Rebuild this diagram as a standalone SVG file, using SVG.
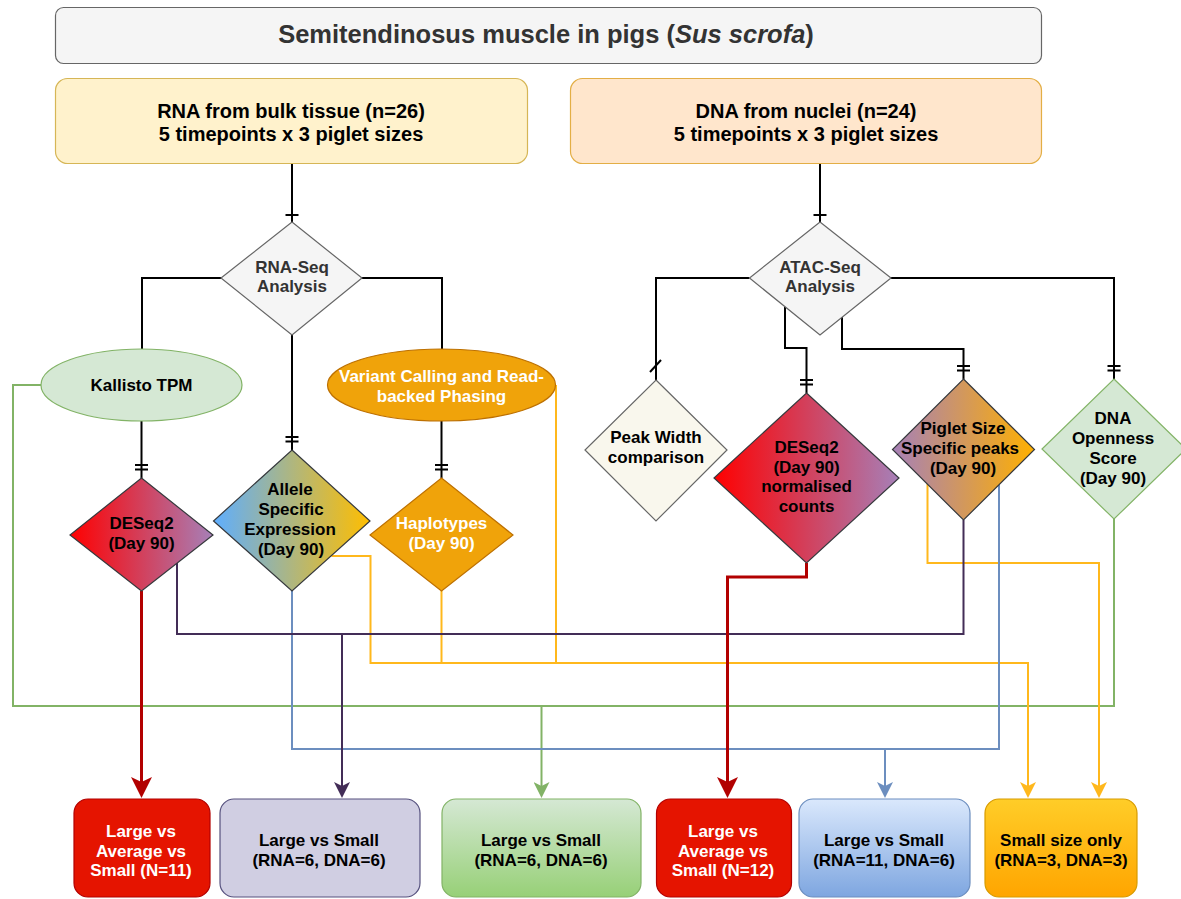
<svg xmlns="http://www.w3.org/2000/svg" width="1181" height="899" viewBox="0 0 1181 899">
<style>
text{font-family:"Liberation Sans",Arial,Helvetica,sans-serif;font-weight:bold;font-size:17px;text-anchor:middle;fill:#000}
.t{font-size:25.5px;fill:#333}
.s{font-size:20px}
.g{fill:#333}
.w{fill:#fff}
.c{fill:none;stroke-width:2;stroke-linejoin:miter}
.k{stroke:#000}
.r{stroke:#B20000;stroke-width:3}
.p{stroke:#432D57}
.b{stroke:#6C8EBF}
.gr{stroke:#82B366}
.y{stroke:#FFB81C}
</style>
<defs>
<linearGradient id="gDes" x1="0" y1="0" x2="1" y2="0"><stop offset="0" stop-color="#FF0000"/><stop offset="1" stop-color="#A680B8"/></linearGradient>
<linearGradient id="gAll" x1="0" y1="0" x2="1" y2="0"><stop offset="0" stop-color="#5EAEFF"/><stop offset="1" stop-color="#FFBE00"/></linearGradient>
<linearGradient id="gPig" x1="0" y1="0" x2="1" y2="0"><stop offset="0" stop-color="#A680B8"/><stop offset="1" stop-color="#FFB000"/></linearGradient>
<linearGradient id="gGreen" x1="0" y1="0" x2="0" y2="1"><stop offset="0" stop-color="#D5E8D4"/><stop offset="1" stop-color="#97D077"/></linearGradient>
<linearGradient id="gBlue" x1="0" y1="0" x2="0" y2="1"><stop offset="0" stop-color="#DAE8FC"/><stop offset="1" stop-color="#7EA6E0"/></linearGradient>
<linearGradient id="gOrange" x1="0" y1="0" x2="0" y2="1"><stop offset="0" stop-color="#FFCD28"/><stop offset="1" stop-color="#FFA500"/></linearGradient>
<marker id="aR" markerUnits="userSpaceOnUse" viewBox="0 0 21 21" markerWidth="21" markerHeight="21" refX="5" refY="10.5" orient="auto"><path d="M0,0 L21,10.5 L0,21 L5,10.5 Z" fill="#B20000"/></marker>
<marker id="aP" markerUnits="userSpaceOnUse" viewBox="0 0 16 16" markerWidth="16" markerHeight="16" refX="4" refY="8" orient="auto"><path d="M0,0 L16,8 L0,16 L4,8 Z" fill="#432D57"/></marker>
<marker id="aB" markerUnits="userSpaceOnUse" viewBox="0 0 16 16" markerWidth="16" markerHeight="16" refX="4" refY="8" orient="auto"><path d="M0,0 L16,8 L0,16 L4,8 Z" fill="#6C8EBF"/></marker>
<marker id="aG" markerUnits="userSpaceOnUse" viewBox="0 0 16 16" markerWidth="16" markerHeight="16" refX="4" refY="8" orient="auto"><path d="M0,0 L16,8 L0,16 L4,8 Z" fill="#82B366"/></marker>
<marker id="aY" markerUnits="userSpaceOnUse" viewBox="0 0 16 16" markerWidth="16" markerHeight="16" refX="4" refY="8" orient="auto"><path d="M0,0 L16,8 L0,16 L4,8 Z" fill="#FFB81C"/></marker>
<marker id="one" markerUnits="userSpaceOnUse" viewBox="-20 -10 30 20" markerWidth="30" markerHeight="20" refX="0" refY="0" orient="auto" overflow="visible"><path d="M-7,-6.5 V6.5" stroke="#000" stroke-width="2" fill="none"/></marker>
<marker id="two" markerUnits="userSpaceOnUse" viewBox="-20 -10 30 20" markerWidth="30" markerHeight="20" refX="0" refY="0" orient="auto" overflow="visible"><path d="M-13,-6.5 V6.5 M-8.5,-6.5 V6.5" stroke="#000" stroke-width="2" fill="none"/></marker>
</defs>

<g id="connectors">
<path class="c k" d="M292,163 V222" marker-end="url(#one)"/>
<path class="c k" d="M820,163 V222" marker-end="url(#one)"/>
<path class="c k" d="M221,278 H142 V349"/>
<path class="c k" d="M362,278 H442 V349"/>
<path class="c k" d="M292,335 V450" marker-end="url(#two)"/>
<path class="c k" d="M141.5,421 V478" marker-end="url(#two)"/>
<path class="c k" d="M441.5,421 V478" marker-end="url(#two)"/>
<path class="c k" d="M749.5,278 H656 V380"/>
<path class="c k" d="M650,372 L661,360"/>
<path class="c k" d="M785,307 V348 H806.5 V393" marker-end="url(#two)"/>
<path class="c k" d="M842,317 V349 H963.5 V379" marker-end="url(#two)"/>
<path class="c k" d="M891,278 H1114 V379" marker-end="url(#two)"/>
<path class="c gr" d="M41,385 H13 V706 H1114 V519"/>
<path class="c gr" d="M541.5,706 V786" marker-end="url(#aG)"/>
<path class="c y" d="M331.5,556 H370.5 V663 H1028 V786" marker-end="url(#aY)"/>
<path class="c y" d="M441.5,591 V663"/>
<path class="c y" d="M556,385 V663"/>
<path class="c y" d="M927.5,484 V563 H1099 V786" marker-end="url(#aY)"/>
<path class="c b" d="M292,591 V749 H885 V786" marker-end="url(#aB)"/>
<path class="c b" d="M999,485 V749 H885"/>
<path class="c p" d="M177,563 V634 H342 V786" marker-end="url(#aP)"/>
<path class="c p" d="M963.5,520 V634 H342"/>
<path class="c r" d="M141.5,591 V782" marker-end="url(#aR)"/>
<path class="c r" d="M806.5,563 V577 H727.5 V782" marker-end="url(#aR)"/>
</g>

<g id="title">
<rect x="55.5" y="7.5" width="986" height="56" rx="8" fill="#F5F5F5" stroke="#666" stroke-width="1.2"/>
<text class="t" x="546" y="43">Semitendinosus muscle in pigs (<tspan font-style="italic">Sus scrofa</tspan>)</text>
</g>
<g id="rna-source">
<rect x="55.5" y="78.5" width="472" height="85" rx="12" fill="#FFF2CC" stroke="#D6B656" stroke-width="1.2"/>
<text class="s" x="291" y="118">RNA from bulk tissue (n=26)</text>
<text class="s" x="291" y="141">5 timepoints x 3 piglet sizes</text>
</g>
<g id="dna-source">
<rect x="570.5" y="78.5" width="471" height="85" rx="12" fill="#FFE6CC" stroke="#E3AE45" stroke-width="1.2"/>
<text class="s" x="806" y="118">DNA from nuclei (n=24)</text>
<text class="s" x="806" y="141">5 timepoints x 3 piglet sizes</text>
</g>
<g id="rnaseq">
<path d="M292,222 L362,278 L292,335 L221,278 Z" fill="#F5F5F5" stroke="#666" stroke-width="1.2"/>
<text class="g" x="292" y="273">RNA-Seq</text>
<text class="g" x="292" y="292">Analysis</text>
</g>
<g id="atacseq">
<path d="M820,222 L891,278 L820,335 L749.5,278 Z" fill="#F5F5F5" stroke="#666" stroke-width="1.2"/>
<text class="g" x="820" y="273">ATAC-Seq</text>
<text class="g" x="820" y="292">Analysis</text>
</g>
<g id="kallisto">
<ellipse cx="141.5" cy="385" rx="100.5" ry="36" fill="#D5E8D4" stroke="#82B366" stroke-width="1.2"/>
<text x="141.5" y="391">Kallisto TPM</text>
</g>
<g id="variant">
<ellipse cx="441.5" cy="385" rx="114" ry="36" fill="#F0A30A" stroke="#BD7000" stroke-width="1.2"/>
<text class="w" x="441.5" y="382">Variant Calling and Read-</text>
<text class="w" x="441.5" y="402">backed Phasing</text>
</g>
<g id="deseq2-rna">
<path d="M141.5,478 L213,535 L141.5,591 L70,535 Z" fill="url(#gDes)" stroke="#36393D" stroke-width="1.2"/>
<text x="141.5" y="529">DESeq2</text>
<text x="141.5" y="549">(Day 90)</text>
</g>
<g id="allele">
<path d="M292,450 L370,521 L292,591 L213.5,521 Z" fill="url(#gAll)" stroke="#36393D" stroke-width="1.2"/>
<text x="290" y="495">Allele</text>
<text x="291" y="515">Specific</text>
<text x="290" y="535">Expression</text>
<text x="291" y="555">(Day 90)</text>
</g>
<g id="haplotypes">
<path d="M441.5,478 L513,535 L441.5,591 L370,535 Z" fill="#F0A30A" stroke="#BD7000" stroke-width="1.2"/>
<text class="w" x="441.5" y="529">Haplotypes</text>
<text class="w" x="441.5" y="549">(Day 90)</text>
</g>
<g id="peakwidth">
<path d="M656,380 L727,450 L656,521 L585,450 Z" fill="#F9F7ED" stroke="#666" stroke-width="1.2"/>
<text x="656" y="443">Peak Width</text>
<text x="656" y="463">comparison</text>
</g>
<g id="deseq2-dna">
<path d="M806.5,393 L899,478 L806.5,563 L714,478 Z" fill="url(#gDes)" stroke="#36393D" stroke-width="1.2"/>
<text x="806.5" y="453">DESeq2</text>
<text x="806.5" y="473">(Day 90)</text>
<text x="806.5" y="492">normalised</text>
<text x="806.5" y="512">counts</text>
</g>
<g id="piglet">
<path d="M963.5,379 L1034.5,449.5 L963.5,520 L892.5,449.5 Z" fill="url(#gPig)" stroke="#36393D" stroke-width="1.2"/>
<text x="963" y="434">Piglet Size</text>
<text x="960" y="454">Specific peaks</text>
<text x="963" y="474">(Day 90)</text>
</g>
<g id="openness">
<path d="M1114,379 L1186,449 L1114,519 L1042,449 Z" fill="#D5E8D4" stroke="#82B366" stroke-width="1.2"/>
<text x="1113" y="424">DNA</text>
<text x="1113" y="444">Openness</text>
<text x="1113" y="464">Score</text>
<text x="1113" y="484">(Day 90)</text>
</g>
<g id="res1">
<rect x="74" y="799" width="136" height="98" rx="14" fill="#E51400" stroke="#B20000" stroke-width="1.2"/>
<text class="w" x="141" y="837">Large vs</text>
<text class="w" x="141" y="857">Average vs</text>
<text class="w" x="141" y="876">Small (N=11)</text>
</g>
<g id="res2">
<rect x="220" y="799" width="200" height="98" rx="14" fill="#D0CEE2" stroke="#56517E" stroke-width="1.2"/>
<text x="319" y="846">Large vs Small</text>
<text x="319" y="866">(RNA=6, DNA=6)</text>
</g>
<g id="res3">
<rect x="442" y="799" width="199" height="98" rx="14" fill="url(#gGreen)" stroke="#82B366" stroke-width="1.2"/>
<text x="541" y="846">Large vs Small</text>
<text x="541" y="866">(RNA=6, DNA=6)</text>
</g>
<g id="res4">
<rect x="656.5" y="799" width="135" height="98" rx="14" fill="#E51400" stroke="#B20000" stroke-width="1.2"/>
<text class="w" x="723" y="837">Large vs</text>
<text class="w" x="723" y="857">Average vs</text>
<text class="w" x="723" y="876">Small (N=12)</text>
</g>
<g id="res5">
<rect x="799" y="799" width="171" height="98" rx="14" fill="url(#gBlue)" stroke="#6C8EBF" stroke-width="1.2"/>
<text x="884" y="846">Large vs Small</text>
<text x="884" y="866">(RNA=11, DNA=6)</text>
</g>
<g id="res6">
<rect x="985" y="799" width="152" height="98" rx="14" fill="url(#gOrange)" stroke="#D79B00" stroke-width="1.2"/>
<text x="1061" y="846">Small size only</text>
<text x="1061" y="866">(RNA=3, DNA=3)</text>
</g>
</svg>
